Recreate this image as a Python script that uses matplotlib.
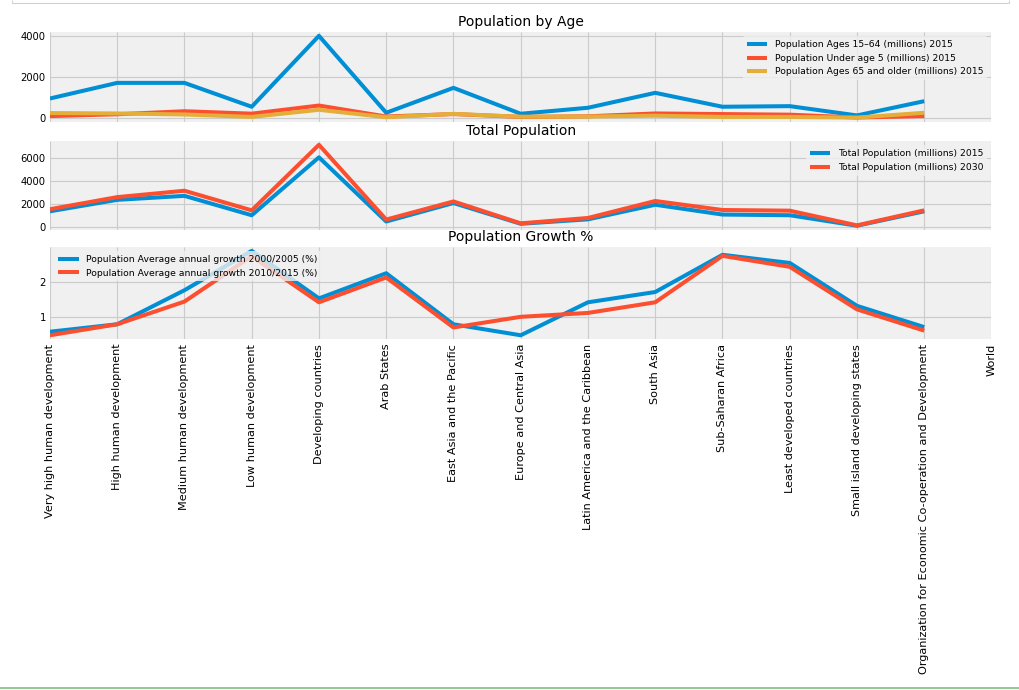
import matplotlib
matplotlib.use("Agg")
import matplotlib.pyplot as plt
from matplotlib.lines import Line2D
import numpy as np

plt.style.use("fivethirtyeight")

regions = [
    "Very high human development", "High human development",
    "Medium human development", "Low human development",
    "Developing countries", "Arab States", "East Asia and the Pacific",
    "Europe and Central Asia", "Latin America and the Caribbean",
    "South Asia", "Sub-Saharan Africa", "Least developed countries",
    "Small island developing states",
    "Organization for Economic Co-operation and Development", "World",
]

# World has no values in the source table
nan = np.nan
ages_15_64 = [946, 1715, 1715, 540, 4030, 245, 1470, 196, 490, 1225, 540, 570, 113, 815, nan]
under_5 = [80, 170, 320, 200, 600, 60, 180, 40, 70, 210, 180, 150, 10, 80, nan]
ages_65 = [230, 210, 160, 40, 390, 25, 190, 50, 60, 100, 40, 40, 5, 245, nan]

total_2015 = [1345, 2350, 2700, 1000, 6080, 450, 2070, 250, 640, 1920, 1060, 1000, 80, 1345, nan]
total_2030 = [1530, 2590, 3150, 1430, 7180, 620, 2210, 290, 760, 2250, 1460, 1400, 110, 1430, nan]

growth_0005 = [0.59, 0.80, 1.76, 2.87, 1.53, 2.24, 0.80, 0.49, 1.42, 1.71, 2.76, 2.53, 1.32, 0.72, nan]
growth_1015 = [0.49, 0.80, 1.44, 2.72, 1.42, 2.12, 0.71, 1.01, 1.12, 1.42, 2.73, 2.42, 1.22, 0.62, nan]

fig = plt.figure(figsize=(10.19, 6.90), dpi=100, facecolor="white")
left, width = 0.049, 0.924
ax1 = fig.add_axes([left, 0.8236, width, 0.1304])
ax2 = fig.add_axes([left, 0.667, width, 0.129], sharex=ax1)
ax3 = fig.add_axes([left, 0.508, width, 0.1345], sharex=ax1)

x = np.arange(len(regions))
lw = 2.9

ax1.plot(x, ages_15_64, lw=lw, label="Population Ages 15\u201364 (millions) 2015")
ax1.plot(x, under_5, lw=lw, label="Population Under age 5 (millions) 2015")
ax1.plot(x, ages_65, lw=lw, label="Population Ages 65 and older (millions) 2015")
ax1.set_title("Population by Age", fontsize=10, pad=4)

ax2.plot(x, total_2015, lw=lw, label="Total Population (millions) 2015")
ax2.plot(x, total_2030, lw=lw, label="Total Population (millions) 2030")
ax2.set_title("Total Population", fontsize=10, pad=4)

ax3.plot(x, growth_0005, lw=lw, label="Population Average annual growth 2000/2005 (%)")
ax3.plot(x, growth_1015, lw=lw, label="Population Average annual growth 2010/2015 (%)")
ax3.set_title("Population Growth %", fontsize=10, pad=4)

for ax in (ax1, ax2, ax3):
    ax.set_facecolor("#f0f0f0")
    ax.grid(True, color="#cbcbcb", lw=0.8)
    ax.tick_params(labelsize=7.2, length=0, pad=3)
    for s in ax.spines.values():
        s.set_visible(False)

leg_kw = dict(fontsize=6.7, framealpha=0.8, handlelength=2.2, edgecolor="none")
ax1.legend(loc="upper right", **leg_kw)
ax2.legend(loc="upper right", **leg_kw)
ax3.legend(loc="upper left", **leg_kw)

ax1.set_yticks([0, 2000, 4000])
ax2.set_yticks([0, 2000, 4000, 6000])
ax3.set_yticks([1, 2])
ax1.set_xlim(0, len(regions) - 1)
ax3.set_xticks(x)
ax3.set_xticklabels(regions, rotation=90, fontsize=8.1)
plt.setp(ax1.get_xticklabels(), visible=False)
plt.setp(ax2.get_xticklabels(), visible=False)

# notebook frame remnants around the output
fig.add_artist(Line2D([0.012, 0.99], [0.996, 0.996], color="#d0d0d0", lw=0.8))
fig.add_artist(Line2D([0.012, 0.012], [0.996, 1.0], color="#d0d0d0", lw=0.8))
fig.add_artist(Line2D([0.99, 0.99], [0.996, 1.0], color="#d0d0d0", lw=0.8))
fig.add_artist(Line2D([0.0, 1.0], [0.0025, 0.0025], color="#7fbf7f", lw=1.2))

fig.savefig("out.png", dpi=100, facecolor="white")
